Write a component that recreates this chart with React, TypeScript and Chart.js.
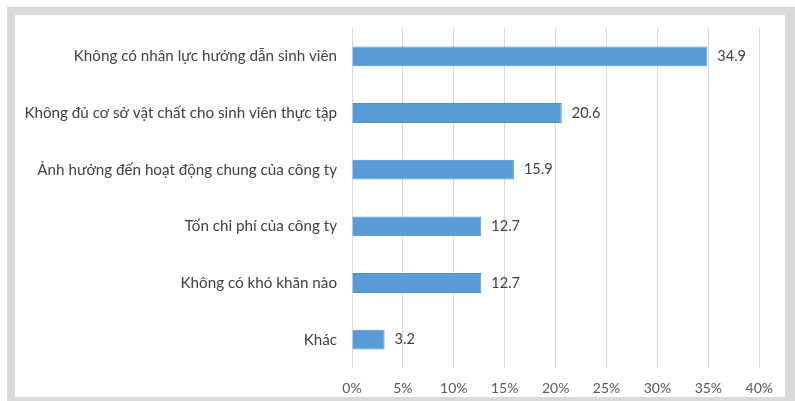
import React, { useEffect, useRef } from "react";
import { Chart, registerables } from "chart.js";

Chart.register(...registerables);

const categories = [
  "Không có nhân lực hướng dẫn sinh viên",
  "Không đủ cơ sở vật chất cho sinh viên thực tập",
  "Ảnh hưởng đến hoạt động chung của công ty",
  "Tốn chi phí của công ty",
  "Không có khó khăn nào",
  "Khác",
];
const values = [34.9, 20.6, 15.9, 12.7, 12.7, 3.2];
const xTickMax = 40;
const xTickStep = 5;

const FONT = "Lato";

const labelPlugin = {
  id: "barValueLabels",
  afterDatasetsDraw(chart: any) {
    const ctx = chart.ctx;
    const meta = chart.getDatasetMeta(0);
    ctx.save();
    ctx.font = `14.5px ${FONT}`;
    ctx.fillStyle = "#404040";
    ctx.textAlign = "left";
    ctx.textBaseline = "middle";
    meta.data.forEach((bar: any, i: number) => {
      ctx.fillText(values[i].toFixed(1), bar.x + 10, bar.y);
    });
    ctx.restore();
  },
};

export default function App() {
  const ref = useRef<HTMLCanvasElement>(null);
  useEffect(() => {
    if (!ref.current) return;
    const chart = new Chart(ref.current, {
      type: "bar",
      data: {
        labels: categories,
        datasets: [
          {
            data: values,
            backgroundColor: "#5b9bd5",
            borderColor: "#4f8fcb",
            borderWidth: 1,
            barPercentage: 0.7,
            categoryPercentage: 0.5,
          },
        ],
      },
      options: {
        indexAxis: "y",
        animation: false,
        responsive: false,
        maintainAspectRatio: false,
        layout: { padding: { top: 13, right: 22, left: 0, bottom: 0 } },
        plugins: { legend: { display: false }, tooltip: { enabled: false } },
        scales: {
          x: {
            min: 0,
            max: xTickMax,
            ticks: {
              stepSize: xTickStep,
              callback: (v: any) => v + "%",
              color: "#595959",
              font: { family: FONT, size: 14 },
              padding: 12,
            },
            grid: { color: "#d9d9d9", drawTicks: false },
            border: { display: false },
            afterFit: (s: any) => {
              s.height = 29;
            },
          },
          y: {
            ticks: {
              color: "#404040",
              font: { family: FONT, size: 15.2 },
              padding: 15,
            },
            grid: { display: false, drawTicks: false },
            border: { display: false },
            afterFit: (s: any) => {
              s.width = 337;
              s.paddingTop = 0;
              s.paddingBottom = 0;
            },
          },
        },
      },
      plugins: [labelPlugin],
    });
    return () => chart.destroy();
  }, []);
  return (
    <div style={{ position: "fixed", left: 0, top: 0, width: 795, height: 401, background: "#fff", overflow: "hidden" }}>
      <div
        style={{
          position: "absolute",
          left: 7,
          top: 7,
          width: 788,
          height: 398,
          boxSizing: "border-box",
          borderStyle: "solid",
          borderColor: "#d9dadc",
          borderWidth: "8px 10px 8px 8px",
          background: "#fff",
        }}
      >
        <canvas ref={ref} width={770} height={382} style={{ display: "block" }} />
      </div>
    </div>
  );
}
